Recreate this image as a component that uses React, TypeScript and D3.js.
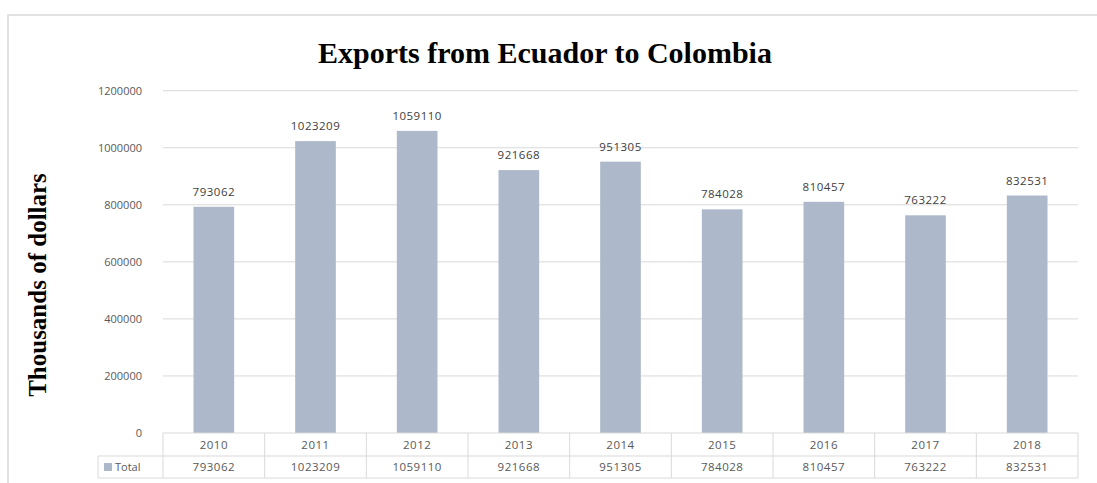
import React from "react";
import * as d3 from "d3";

const years = ["2010", "2011", "2012", "2013", "2014", "2015", "2016", "2017", "2018"];
const totals = [793062, 1023209, 1059110, 921668, 951305, 784028, 810457, 763222, 832531];
const yTicks = [0, 200000, 400000, 600000, 800000, 1000000, 1200000];
const seriesName = "Total";
const title = "Exports from Ecuador to Colombia";
const yTitle = "Thousands of dollars";

export default function App() {
  const W = 1097, H = 483;
  const left = 163, right = 1078, top = 90.7, bottom = 433;
  const x = d3.scaleBand<string>().domain(years).range([left, right]).paddingInner(0.6).paddingOuter(0.3);
  const y = d3.scaleLinear().domain([0, 1200000]).range([bottom, top]);
  const step = x.step();
  const row1 = bottom, row2 = 456, row3 = 478;
  const legendLeft = 98;
  const grid = "#d9d9d9";
  const txt = "#595959";
  const font = "'Open Sans', 'Liberation Sans', sans-serif";
  return (
    <svg width={W} height={H} style={{ position: "absolute", left: 0, top: 0, background: "#fff" }}>
      <rect x={0} y={0} width={W} height={H} fill="#fff" />
      <rect x={8} y={15} width={W + 20} height={H + 20} fill="#fff" stroke={grid} strokeWidth={1.5} />
      <text x={545} y={63} textAnchor="middle" fontFamily="'Liberation Serif', 'Times New Roman', serif" fontWeight="bold" fontSize={30} fill="#000">{title}</text>
      <text transform={`translate(46,285) rotate(-90)`} textAnchor="middle" fontFamily="'Liberation Serif', 'Times New Roman', serif" fontWeight="bold" fontSize={25} fill="#000">{yTitle}</text>
      {yTicks.map((t) => (
        <g key={t}>
          {t > 0 && <line x1={left} x2={right} y1={y(t)} y2={y(t)} stroke={grid} strokeWidth={1} />}
          <text x={142} y={y(t)} dy="0.35em" textAnchor="end" fontFamily={font} fontSize={11} fill={txt}>{t}</text>
        </g>
      ))}
      {years.map((yr, i) => (
        <g key={yr}>
          <rect x={x(yr)} y={y(totals[i])} width={x.bandwidth()} height={bottom - y(totals[i])} fill="#adb9ca" />
          <text x={(x(yr) as number) + x.bandwidth() / 2} y={y(totals[i]) - 11} textAnchor="middle" fontFamily={font} fontSize={11.5} letterSpacing={0.5} fill="#404040">{totals[i]}</text>
        </g>
      ))}
      <g fill="none" stroke={grid} strokeWidth={1}>
        <line x1={left} x2={right} y1={row1} y2={row1} />
        <line x1={legendLeft} x2={right} y1={row2} y2={row2} />
        <line x1={legendLeft} x2={right} y1={row3} y2={row3} />
        <line x1={legendLeft} x2={legendLeft} y1={row2} y2={row3} />
        {years.map((yr, i) => (
          <line key={yr} x1={left + i * step} x2={left + i * step} y1={row1} y2={row3} />
        ))}
        <line x1={right} x2={right} y1={row1} y2={row3} />
      </g>
      {years.map((yr, i) => (
        <g key={"t" + yr}>
          <text x={left + (i + 0.5) * step} y={(row1 + row2) / 2} dy="0.35em" textAnchor="middle" fontFamily={font} fontSize={11.5} letterSpacing={0.5} fill={txt}>{yr}</text>
          <text x={left + (i + 0.5) * step} y={(row2 + row3) / 2} dy="0.35em" textAnchor="middle" fontFamily={font} fontSize={11.5} letterSpacing={0.5} fill={txt}>{totals[i]}</text>
        </g>
      ))}
      <rect x={104} y={463} width={8} height={8} fill="#adb9ca" />
      <text x={115} y={(row2 + row3) / 2} dy="0.35em" fontFamily={font} fontSize={11} fill={txt}>{seriesName}</text>
    </svg>
  );
}
